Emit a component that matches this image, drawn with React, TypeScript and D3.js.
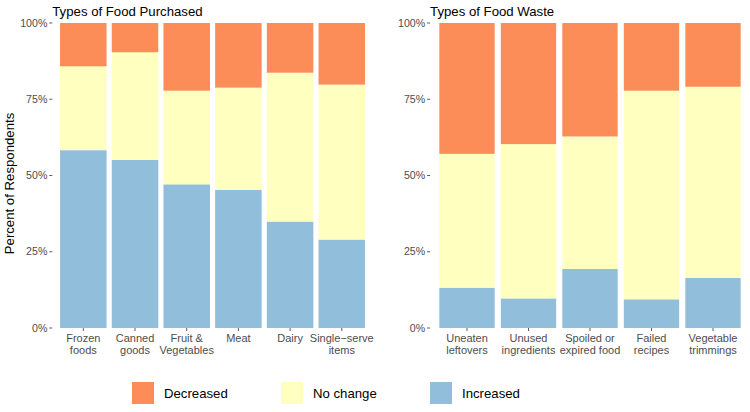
import React from "react";
import * as d3 from "d3";

const purchasedCategories = ["Frozen\nfoods", "Canned\ngoods", "Fruit &\nVegetables", "Meat", "Dairy", "Single−serve\nitems"];
const purchasedIncreased = [58.3, 55.1, 47.1, 45.3, 34.9, 29.0];
const purchasedNoChange = [27.5, 35.3, 30.7, 33.5, 48.8, 50.8];
const purchasedDecreased = [14.2, 9.6, 22.2, 21.2, 16.3, 20.2];

const wasteCategories = ["Uneaten\nleftovers", "Unused\ningredients", "Spoiled or\nexpired food", "Failed\nrecipes", "Vegetable\ntrimmings"];
const wasteIncreased = [13.2, 9.7, 19.4, 9.4, 16.4];
const wasteNoChange = [43.9, 50.6, 43.4, 68.4, 62.7];
const wasteDecreased = [42.9, 39.7, 37.2, 22.2, 20.9];

const seriesNames = ["Increased", "No change", "Decreased"];
const seriesColors = ["#91BFDB", "#FFFFBF", "#FC8D59"];
const legendOrder = ["Decreased", "No change", "Increased"];
const yTicks = [0, 25, 50, 75, 100];

const FONT = "'Liberation Sans', Arial, sans-serif";

function Panel({ title, categories, inc, noc, dec, x0, x1, showYTitle }: any) {
  const top = 23, bottom = 328;
  const y = d3.scaleLinear().domain([0, 100]).range([bottom, top]);
  const x = d3.scaleBand<string>().domain(categories).range([x0, x1]).paddingInner(0.1).paddingOuter(0.15);
  const rows = categories.map((c: string, i: number) => ({ cat: c, Increased: inc[i], "No change": noc[i], Decreased: dec[i] }));
  const stack = d3.stack<any>().keys(seriesNames);
  const layers = stack(rows);
  return (
    <g>
      <text x={x0} y={15.5} fontSize={13.2} fill="#000" fontFamily={FONT}>{title}</text>
      {layers.map((layer, li) => (
        <g key={li}>
          {layer.map((d: any, i: number) => {
            const yy0 = y(d[1]);
            const yy1 = y(d[0]);
            return (
              <rect key={i} x={x(categories[i])} y={yy0} width={x.bandwidth()} height={Math.max(0, yy1 - yy0)} fill={seriesColors[li]} />
            );
          })}
        </g>
      ))}
      {yTicks.map((t) => (
        <g key={t}>
          <line x1={x0 - 3} x2={x0} y1={y(t)} y2={y(t)} stroke="#333" strokeWidth={0.8} />
          <text x={x0 - 5} y={y(t)} dy="0.35em" textAnchor="end" fontSize={10.6} fill="#4D4D4D" fontFamily={FONT}>{t}%</text>
        </g>
      ))}
      {categories.map((c: string) => {
        const cx = (x(c) as number) + x.bandwidth() / 2;
        const lines = c.split("\n");
        return (
          <g key={c}>
            <line x1={cx} x2={cx} y1={bottom} y2={bottom + 3} stroke="#333" strokeWidth={0.8} />
            {lines.map((l, k) => (
              <text key={k} x={cx} y={bottom + 14 + k * 12} textAnchor="middle" fontSize={11} fill="#4D4D4D" fontFamily={FONT}>{l}</text>
            ))}
          </g>
        );
      })}
      {showYTitle && (
        <text transform={`translate(14,183.5) rotate(-90)`} textAnchor="middle" fontSize={13.2} fill="#000" fontFamily={FONT}>Percent of Respondents</text>
      )}
    </g>
  );
}

export default function App() {
  return (
    <svg width={750} height={412} style={{ position: "absolute", left: 0, top: 0, background: "#fff" }}>
      <rect width={750} height={412} fill="#fff" />
      <Panel title="Types of Food Purchased" categories={purchasedCategories} inc={purchasedIncreased} noc={purchasedNoChange} dec={purchasedDecreased} x0={52.3} x1={372.8} showYTitle />
      <Panel title="Types of Food Waste" categories={wasteCategories} inc={wasteIncreased} noc={wasteNoChange} dec={wasteDecreased} x0={430.1} x1={749.9} showYTitle={false} />
      {legendOrder.map((name, i) => {
        const lx = 132 + i * 149;
        const color = seriesColors[seriesNames.indexOf(name)];
        return (
          <g key={name}>
            <rect x={lx} y={382} width={22} height={22} fill={color} />
            <text x={lx + 32} y={393} dy="0.35em" fontSize={13.2} fill="#000" fontFamily={FONT}>{name}</text>
          </g>
        );
      })}
    </svg>
  );
}
